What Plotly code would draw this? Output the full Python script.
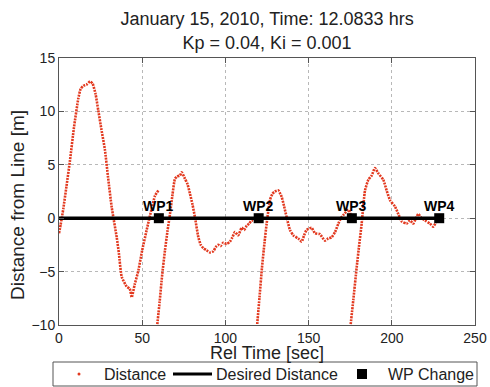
import plotly.graph_objects as go

# Cross-track distance samples, one list per leg (each leg restarts after a waypoint change)
leg1_t = [0, 1, 2.6, 4.5, 6.6, 9, 11.6, 13, 14.6, 16.5, 18.6, 20.2, 22, 23.6, 25.5, 27.6, 29.5, 31.7,
          34.7, 36, 37.7, 40.7, 42.5, 43.7, 45.5, 47.7, 50, 52.7, 55.7, 57.7, 59.7]
leg1_v = [-1.4, -0.6, 0.9, 3.0, 5.4, 8.5, 11.2, 12.1, 12.4, 12.5, 12.8, 12.6, 11.6, 10.1, 8.3, 6.4, 3.8, 1.0,
          -1.8, -3.3, -5.5, -6.4, -6.6, -7.4, -6.2, -4.9, -3.0, -1.1, 0.9, 2.1, 2.6]

leg2_t = [58.7, 60.5, 62, 63.7, 65.2, 66.7, 68.2, 69.7, 71, 72.7, 73.7, 75.7, 77.2, 78.7, 80.2, 81.7,
          83.7, 85.2, 86.7, 88.7, 90.7, 92.7, 94.2, 95.7, 97.2, 98.7, 100.7, 102.7, 104.2, 105.7,
          107.7, 109.8, 111.3, 112.8, 114.3, 115.8, 117.8, 119.8]
leg2_v = [-10.5, -7.8, -5.3, -3.0, -1.2, 0.4, 2.2, 3.7, 3.9, 4.0, 4.3, 3.7, 3.2, 2.3, 1.3, 0.1,
          -1.75, -2.5, -2.8, -3.0, -3.2, -3.1, -2.7, -2.5, -2.6, -2.3, -2.4, -2.2, -1.8, -1.3,
          -1.6, -0.9, -1.1, -0.7, -0.5, -0.2, -0.3, 0.0]

leg3_t = [118.8, 120.5, 122, 123.5, 124.8, 126.8, 128.3, 129.8, 131.8, 133.8, 135.3, 136.8, 138.8,
          140.8, 143.8, 145.8, 147.3, 148.8, 151.8, 153.8, 156.8, 159.8, 161.8, 163.8, 165.9,
          167.9, 169.4, 170.9, 173.9, 175.9]
leg3_v = [-10.5, -7.4, -4.6, -2.3, -0.5, 1.7, 2.3, 2.5, 2.6, 2.0, 1.1, 0.1, -1.1,
          -1.6, -1.9, -2.2, -1.6, -1.1, -0.9, -1.4, -1.5, -2.1, -1.9, -1.8, -1.3,
          -0.5, 0.0, 0.3, 0.8, 0.0]

leg4_t = [174.9, 176.9, 178.9, 180.4, 181.9, 183.9, 185.9, 187.9, 189.9, 191.9, 194.9, 196.9,
          198.9, 201.9, 203.9, 205.9, 208.9, 210.9, 212.9, 215.9, 217.9, 219.9, 222.9, 224.9,
          226.9, 228.5]
leg4_v = [-10.5, -7.6, -4.6, -2.5, -0.5, 2.6, 3.6, 4.0, 4.7, 4.2, 3.6, 2.6,
          1.7, 1.1, 0.4, -0.3, -0.5, -0.2, -0.5, 0.4, 0.0, -0.2, -0.5, -0.8,
          -0.3, 0.0]

# Waypoint changes
wp_t = [60, 120, 176, 228.5]
wp_v = [0, 0, 0, 0]
wp_names = ["WP1", "WP2", "WP3", "WP4"]

# Desired distance from the track line
desired_t = [0, 228.5]
desired_v = [0, 0]

legend_names = ["Distance", "Desired Distance", "WP Change"]

RED = "#e2391f"
FONT = "Liberation Sans, Arial, sans-serif"

W, H = 490, 387
L, R, T, B = 59, 15, 58, 62
PW, PH = W - L - R, H - T - B


def px_x(x):
    """pixel column -> paper x"""
    return (x - L) / PW


def px_y(y):
    """pixel row -> paper y"""
    return (H - B - y) / PH


fig = go.Figure()

legs = [(leg1_t, leg1_v), (leg2_t, leg2_v), (leg3_t, leg3_v), (leg4_t, leg4_v)]
for t, v in legs:
    fig.add_trace(go.Scatter(
        x=t, y=v, mode="lines", showlegend=False, hoverinfo="x+y", name=legend_names[0],
        line=dict(color=RED, width=2.6, dash="2px,1px", shape="spline", smoothing=0.5),
    ))

fig.add_trace(go.Scatter(
    x=desired_t, y=desired_v, mode="lines", name=legend_names[1], showlegend=False,
    line=dict(color="black", width=3.5),
))

fig.add_trace(go.Scatter(
    x=wp_t, y=wp_v, mode="markers", name=legend_names[2], showlegend=False,
    marker=dict(color="black", size=10, symbol="square"),
))

# waypoint labels sitting just above each square
for t, v, name in zip(wp_t, wp_v, wp_names):
    fig.add_annotation(x=t, y=v, text=name, showarrow=False, xanchor="center",
                       yanchor="bottom", yshift=2,
                       font=dict(family=FONT, size=14, color="black", weight="bold"))

# axis titles
title_font = dict(family=FONT, size=18, color="#222")
fig.add_annotation(xref="paper", yref="paper", x=0.5, y=px_y(353), text="Rel Time [sec]",
                   showarrow=False, xanchor="center", yanchor="middle", font=title_font,
                   borderpad=0)
fig.add_annotation(xref="paper", yref="paper", x=px_x(17), y=px_y(205), text="Distance from Line [m]",
                   showarrow=False, xanchor="center", yanchor="middle", textangle=-90,
                   font=dict(family=FONT, size=19, color="#222"))

# legend box below the axes
ly = 374
fig.add_shape(type="rect", xref="paper", yref="paper",
              x0=px_x(53), x1=px_x(477), y0=px_y(362), y1=px_y(386),
              line=dict(color="#555", width=1), fillcolor="white", layer="above")
fig.add_shape(type="circle", xref="paper", yref="paper",
              x0=px_x(77.5), x1=px_x(80.5), y0=px_y(ly - 1.5), y1=px_y(ly + 1.5),
              line=dict(width=0), fillcolor=RED, layer="above")
fig.add_shape(type="line", xref="paper", yref="paper",
              x0=px_x(173), x1=px_x(212), y0=px_y(ly), y1=px_y(ly),
              line=dict(color="black", width=3), layer="above")
fig.add_shape(type="rect", xref="paper", yref="paper",
              x0=px_x(357), x1=px_x(367), y0=px_y(ly - 5), y1=px_y(ly + 5),
              line=dict(width=0), fillcolor="black", layer="above")
legend_font = dict(family=FONT, size=16, color="#222")
for name, x0 in zip(legend_names, [102, 214, 386]):
    fig.add_annotation(xref="paper", yref="paper", x=px_x(x0), y=px_y(ly), text=name,
                       showarrow=False, xanchor="left", yanchor="middle", font=legend_font)

grid = dict(showgrid=True, gridcolor="#b8b8b8", griddash="dot", gridwidth=1,
            zeroline=False, showline=True, linecolor="#555", linewidth=1, mirror="ticks",
            ticks="inside", ticklen=5, tickcolor="#555",
            tickfont=dict(family=FONT, size=14, color="#222"))

fig.update_xaxes(range=[0, 250], tickvals=[0, 50, 100, 150, 200, 250], **grid)
fig.update_yaxes(range=[-10, 15], tickvals=[-10, -5, 0, 5, 10, 15],
                 ticktext=["\u221210", "\u22125", "0", "5", "10", "15"], **grid)

fig.update_layout(
    width=W, height=H,
    margin=dict(l=L, r=R, t=T, b=B, autoexpand=False),
    paper_bgcolor="white", plot_bgcolor="white",
    title=dict(text="January 15, 2010, Time: 12.0833 hrs<br>Kp = 0.04, Ki = 0.001",
               x=0.545, xanchor="center", y=0.935, yanchor="top",
               font=dict(family=FONT, size=18, color="#222")),
    showlegend=False,
)

fig.write_html("out.html")
